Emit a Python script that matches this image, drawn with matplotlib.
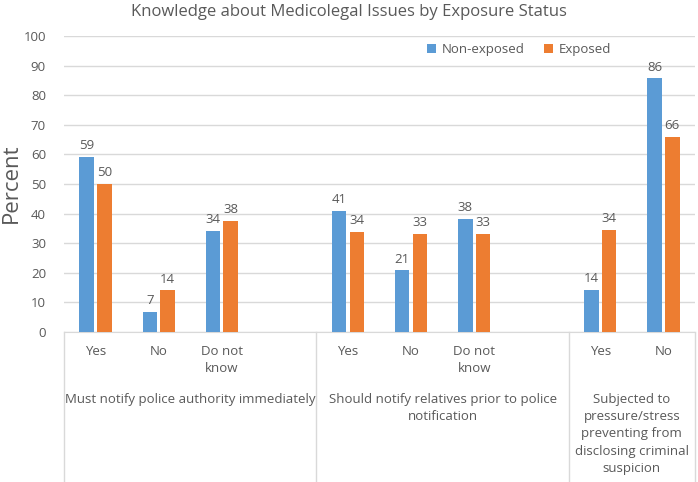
import numpy as np
import matplotlib
matplotlib.use("Agg")
import matplotlib.pyplot as plt
import matplotlib.transforms as mtransforms

plt.rcParams['font.family'] = ['Open Sans', 'DejaVu Sans']

# data
groups = ["Must notify police authority immediately",
          "Should notify relatives prior to police\nnotification",
          "Subjected to\npressure/stress\npreventing from\ndisclosing criminal\nsuspicion"]
answers = [["Yes", "No", "Do not\nknow"],
           ["Yes", "No", "Do not\nknow"],
           ["Yes", "No"]]
non_exposed = [59.2, 6.7, 34.1, 40.9, 20.8, 38.3, 14.2, 85.7]
exposed = [50.0, 14.1, 37.6, 33.8, 33.1, 33.1, 34.4, 65.8]

blue = "#5B9BD5"
orange = "#ED7D31"
txt = "#595959"
grid = "#D9D9D9"
fs = 9.5

fig = plt.figure(figsize=(6.98, 4.82), dpi=100)
ax = fig.add_axes([64/698, 150/482, 631/698, 296/482])

# slot positions: each group followed by an empty slot
pos = []
group_bounds = []
slot = 0
for i, g in enumerate(answers):
    start = slot
    for a in g:
        pos.append(slot)
        slot += 1
    if i < len(answers) - 1:
        slot += 1
    group_bounds.append((start - 0.5, slot - 0.5))
pos = np.array(pos, dtype=float)
nslots = slot

w = 0.23
off = 0.14
b1 = ax.bar(pos - off, non_exposed, w, color=blue, label="Non-exposed", zorder=3)
b2 = ax.bar(pos + off, exposed, w, color=orange, label="Exposed", zorder=3)
for bars, vals in [(b1, non_exposed), (b2, exposed)]:
    for r, v in zip(bars, vals):
        ax.text(r.get_x() + r.get_width()/2, v + 1.6, "%d" % round(v),
                ha="center", va="bottom", fontsize=fs, color=txt)

ax.set_xlim(-0.5, nslots - 0.5)
ax.set_ylim(0, 100)
ax.set_yticks(range(0, 101, 10))
ax.tick_params(axis="y", length=0, labelsize=fs, labelcolor=txt, pad=13)
ax.set_xticks([])
ax.grid(axis="y", color=grid, linewidth=1, zorder=0)
for s in ["left", "right", "top"]:
    ax.spines[s].set_visible(False)
ax.spines["bottom"].set_color(grid)

fig.text(0.5/698, 1 - 183/482, "Percent", rotation=90, ha="left", va="center",
         fontsize=16, color=txt)
fig.text(0.5, 1 - 12/482, "Knowledge about Medicolegal Issues by Exposure Status",
         ha="center", va="center", fontsize=12, color=txt)

trans = mtransforms.blended_transform_factory(ax.transData, ax.transAxes)
edges = [-0.5] + [b for _, b in group_bounds]
for x in edges:
    ax.plot([x, x], [0, -0.52], transform=trans, color=grid, lw=1, clip_on=False)

k = 0
for gi, g in enumerate(answers):
    for a in g:
        ax.text(pos[k], -0.043, a, transform=trans, ha="center", va="top",
                fontsize=fs, color=txt, linespacing=1.43)
        k += 1
    lo, hi = group_bounds[gi]
    ax.text((lo + hi) / 2, -0.205, groups[gi], transform=trans, ha="center",
            va="top", fontsize=fs, color=txt, linespacing=1.43)

ax.legend(loc="center", bbox_to_anchor=(0.721, 0.953), ncol=2, frameon=False,
          fontsize=fs, labelcolor=txt, handlelength=0.7, handleheight=0.7,
          handletextpad=0.4, columnspacing=1.5)

fig.savefig("out.png", dpi=100)
